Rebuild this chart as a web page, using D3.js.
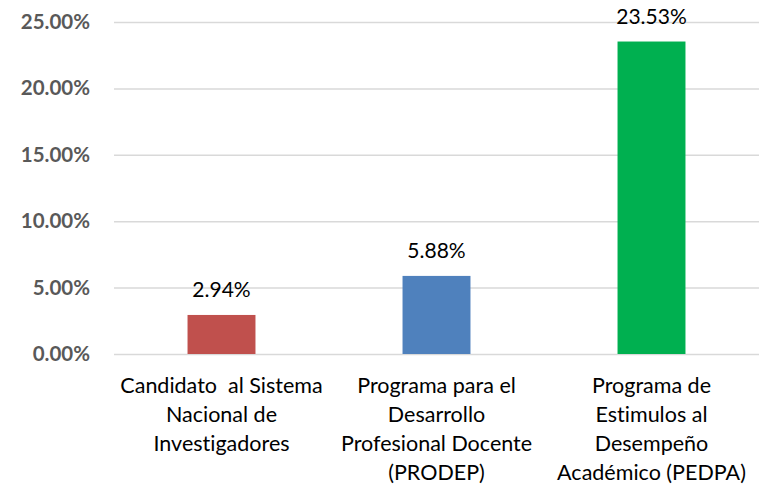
<!DOCTYPE html>
<html>
<head>
<meta charset="utf-8">
<script src="https://cdn.jsdelivr.net/npm/d3@7"></script>
<style>
  body { margin: 0; background: #fff; }
  svg { display: block; }
  text { white-space: pre; font-variant-ligatures: none; }
</style>
</head>
<body>
<svg id="chart" width="765" height="487"></svg>
<script>
// chart data
var categories = ["sni", "prodep", "pedpa"];
var categoryLines = [
    ["Candidato  al Sistema", "Nacional de", "Investigadores"],
    ["Programa para el", "Desarrollo", "Profesional Docente", "(PRODEP)"],
    ["Programa de", "Estimulos al", "Desempeño", "Académico (PEDPA)"]
];
var values = [2.94, 5.88, 23.53];
var barColors = ["#c0504d", "#4f81bd", "#00b050"];
var yTicks = [0, 5, 10, 15, 20, 25];

var svg = d3.select("#chart"),
    margin = {top: 22, right: 6, bottom: 133, left: 114},
    width = +svg.attr("width") - margin.left - margin.right,
    height = +svg.attr("height") - margin.top - margin.bottom;

var g = svg.append("g")
    .attr("transform", "translate(" + margin.left + "," + margin.top + ")");

var x = d3.scaleBand()
    .domain(categories)
    .range([0, width])
    .paddingInner(0.684)
    .paddingOuter(0.342);

var y = d3.scaleLinear()
    .domain([0, 25])
    .range([height, 0]);

// gridlines + y labels
var yAxisCall = d3.axisLeft(y)
    .tickValues(yTicks)
    .tickSize(-width)
    .tickPadding(24)
    .tickFormat(function(d) { return d.toFixed(2) + "%"; });

var yAxis = g.append("g")
    .attr("class", "y axis")
    .call(yAxisCall);

yAxis.select(".domain").remove();
yAxis.selectAll(".tick line")
    .attr("stroke", "#d9d9d9")
    .attr("stroke-width", 1.5);
yAxis.selectAll(".tick text")
    .attr("fill", "#595959")
    .attr("font-family", "Lato, 'Open Sans', sans-serif")
    .attr("font-weight", "bold")
    .attr("font-size", "20.5px");

// bars
g.selectAll(".bar")
    .data(values)
    .enter()
    .append("rect")
    .attr("class", "bar")
    .attr("x", function(d, i) { return x(categories[i]); })
    .attr("width", x.bandwidth())
    .attr("y", function(d) { return y(d); })
    .attr("height", function(d) { return y(0) - y(d); })
    .attr("fill", function(d, i) { return barColors[i]; });

// value labels
g.selectAll(".value")
    .data(values)
    .enter()
    .append("text")
    .attr("class", "value")
    .attr("x", function(d, i) { return x(categories[i]) + x.bandwidth() / 2; })
    .attr("y", function(d) { return y(d) - 18; })
    .attr("text-anchor", "middle")
    .attr("font-family", "Lato, 'Open Sans', sans-serif")
    .attr("font-size", "21px")
    .attr("fill", "#000")
    .text(function(d) { return d.toFixed(2) + "%"; });

// category labels
var cat = g.selectAll(".cat")
    .data(categoryLines)
    .enter()
    .append("text")
    .attr("class", "cat")
    .attr("text-anchor", "middle")
    .attr("font-family", "Lato, 'Open Sans', sans-serif")
    .attr("font-size", "21.5px")
    .attr("fill", "#000")
    .attr("transform", function(d, i) {
        return "translate(" + (x(categories[i]) + x.bandwidth() / 2) + "," + (height + 39) + ")";
    });

cat.selectAll("tspan")
    .data(function(d) { return d; })
    .enter()
    .append("tspan")
    .attr("x", 0)
    .attr("y", function(d, i) { return i * 29; })
    .text(function(d) { return d; });
</script>
</body>
</html>
